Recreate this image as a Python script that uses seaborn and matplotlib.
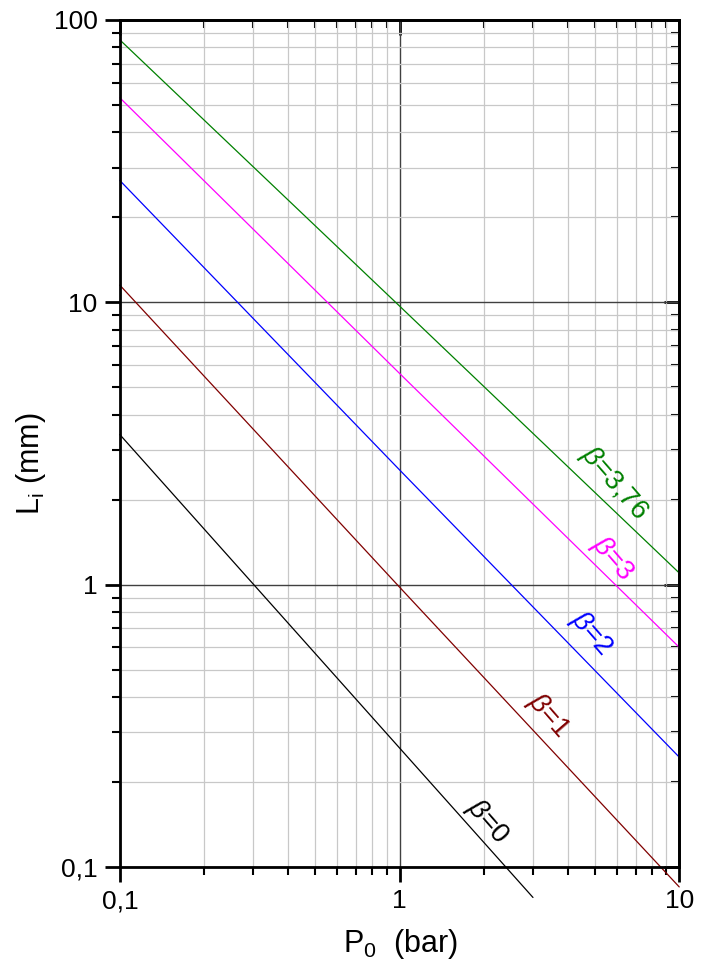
import numpy as np
import matplotlib
matplotlib.use("Agg")
import matplotlib.pyplot as plt
import seaborn as sns
from matplotlib.ticker import LogLocator, FixedLocator, FixedFormatter, NullFormatter

# valeurs (L_i en mm selon P_0 en bar)
p0 = [0.1, 1, 10]
li_b376 = [85, 9.7, 1.1]
li_b3 = [53, 5.6, 0.6]
li_b2 = [27, 2.55, 0.245]
li_b1 = [11.5, 0.98, 0.085]
p0_b0 = [0.1, 1, 3]
li_b0 = [3.4, 0.264, 0.078]

labels = ["β=3,76", "β=3", "β=2", "β=1", "β=0"]
colors = ["#008000", "#ff00ff", "#0000ff", "#800000", "#000000"]
label_pos = [(5.85, 2.28), (5.75, 1.24), (4.85, 0.67), (3.40, 0.345), (2.07, 0.145)]

sns.set_theme(style="white")
plt.rcParams['font.family'] = ['Liberation Sans', 'DejaVu Sans']
plt.rcParams['mathtext.fontset'] = 'custom'
plt.rcParams['mathtext.rm'] = 'Liberation Sans'
plt.rcParams['mathtext.it'] = 'Liberation Sans:italic'

fig = plt.figure(figsize=(7.09, 9.77), dpi=100)
ax = fig.add_axes([0.169, 0.1126, 0.789, 0.867])

series = [(p0, li_b376), (p0, li_b3), (p0, li_b2), (p0, li_b1), (p0_b0, li_b0)]
for (xs, ys), c in zip(series, colors):
    sns.lineplot(x=xs, y=ys, ax=ax, color=c, linewidth=0.9, clip_on=False, legend=False)

ax.set_xscale("log")
ax.set_yscale("log")
ax.set_xlim(0.1, 10)
ax.set_ylim(0.1, 100)

# grille
ax.xaxis.set_minor_locator(LogLocator(base=10, subs=np.arange(2, 10)))
ax.yaxis.set_minor_locator(LogLocator(base=10, subs=np.arange(2, 10)))
ax.grid(which='minor', color='#c8c8c8', linewidth=0.9)
ax.grid(which='major', color='#404040', linewidth=1.0)
ax.set_axisbelow(True)

ax.xaxis.set_major_locator(FixedLocator([0.1, 1, 10]))
ax.xaxis.set_major_formatter(FixedFormatter(["0,1", "1", "10"]))
ax.yaxis.set_major_locator(FixedLocator([0.1, 1, 10, 100]))
ax.yaxis.set_major_formatter(FixedFormatter(["0,1", "1", "10", "100"]))
ax.xaxis.set_minor_formatter(NullFormatter())
ax.yaxis.set_minor_formatter(NullFormatter())

ax.tick_params(which='both', bottom=True, left=True, top=False, right=False)
ax.tick_params(which='major', direction='out', length=11, width=2, labelsize=19,
               color='black', labelcolor='black', pad=5)
ax.tick_params(which='minor', direction='out', length=6, width=1.5, color='black')

for s in ax.spines.values():
    s.set_color('black')
    s.set_linewidth(2)

# ticks vers l'intérieur en haut et à droite
top = ax.secondary_xaxis('top')
top.set_xscale('log')
top.xaxis.set_major_locator(FixedLocator([0.1, 1, 10]))
top.xaxis.set_minor_locator(LogLocator(base=10, subs=np.arange(2, 10)))
top.tick_params(which='both', top=True, labeltop=False, color='black')
top.tick_params(which='major', direction='in', length=11, width=2)
top.tick_params(which='minor', direction='in', length=6, width=1.5)
top.spines['top'].set_linewidth(2)
top.spines['top'].set_color('black')
right = ax.secondary_yaxis('right')
right.set_yscale('log')
right.yaxis.set_major_locator(FixedLocator([0.1, 1, 10, 100]))
right.yaxis.set_minor_locator(LogLocator(base=10, subs=np.arange(2, 10)))
right.tick_params(which='both', right=True, labelright=False, color='black')
right.tick_params(which='major', direction='in', length=11, width=2)
right.tick_params(which='minor', direction='in', length=6, width=1.5)
right.spines['right'].set_linewidth(2)
right.spines['right'].set_color('black')

ax.set_xlabel("P$_{\\rm 0}$  (bar)", fontsize=22, color='black')
ax.set_ylabel("L$_{\\rm i}$ (mm)", fontsize=22, color='black')
ax.xaxis.set_label_coords(280 / 559, -60 / 847)
ax.yaxis.set_label_coords(-72 / 559, 403 / 847)

for lab, c, (lx, ly) in zip(labels, colors, label_pos):
    txt = lab.replace("β", "$\\beta$")
    ax.text(lx, ly, txt, color=c, fontsize=20, rotation=-49,
            ha='center', va='center', rotation_mode='anchor')

fig.savefig("out.png", dpi=100)
